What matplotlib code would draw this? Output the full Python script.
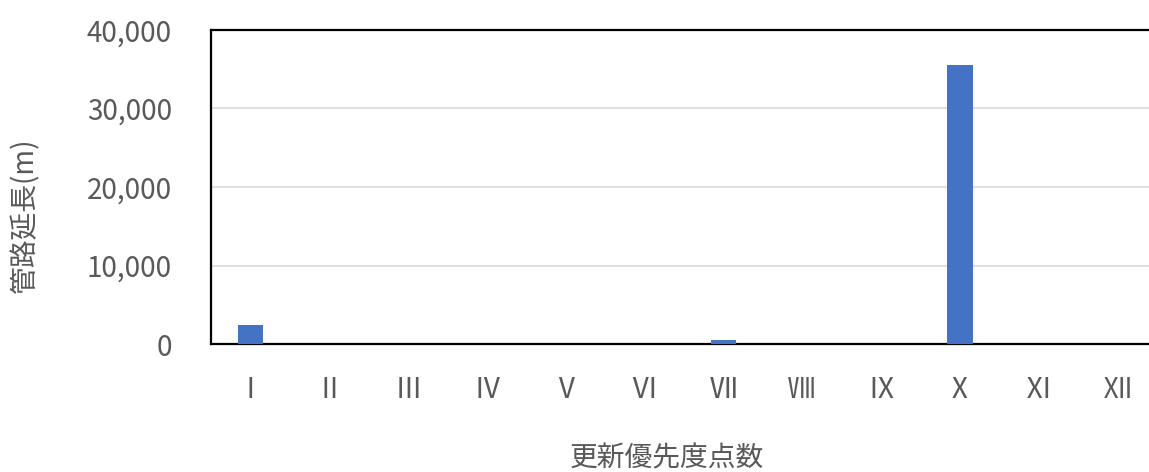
import matplotlib.pyplot as plt
from matplotlib.ticker import FuncFormatter

plt.rcParams['font.family'] = ['Noto Sans CJK JP', 'DejaVu Sans']

# 更新優先度点数ごとの管路延長 (m)
scores = ['Ⅰ', 'Ⅱ', 'Ⅲ', 'Ⅳ', 'Ⅴ', 'Ⅵ', 'Ⅶ', 'Ⅷ', 'Ⅸ', 'Ⅹ', 'Ⅺ', 'Ⅻ']
lengths = [2400, 0, 0, 0, 0, 0, 500, 0, 0, 35500, 0, 0]
yticks = [0, 10000, 20000, 30000, 40000]

W, H = 1149, 472
fig = plt.figure(figsize=(W / 100, H / 100), dpi=100)
ax = fig.add_axes([211 / W, 128 / H, 946 / W, 314 / H])

x = range(len(scores))
ax.bar(x, lengths, width=0.32, color='#4472c4', zorder=3)

ax.set_xlim(-0.5, len(scores) - 0.5)
ax.set_ylim(0, 40000)
ax.set_yticks(yticks)
ax.yaxis.set_major_formatter(FuncFormatter(lambda v, p: f'{int(v):,}'))
ax.set_xticks(list(x))
ax.set_xticklabels(scores)

ax.grid(axis='y', color='#d9d9d9', linewidth=1.2, zorder=0)
for s in ax.spines.values():
    s.set_color('black')
    s.set_linewidth(1.6)

ax.tick_params(axis='both', length=0, labelsize=20, labelcolor='#595959')
ax.tick_params(axis='x', pad=22)
ax.tick_params(axis='y', pad=28)

fig.text(667 / W, 1 - 458 / H, '更新優先度点数', fontsize=20, color='#595959',
         ha='center', va='center')
fig.text(25 / W, 1 - 215 / H, '管路延長(m)', fontsize=20, color='#595959',
         ha='center', va='center', rotation=90)

fig.savefig('out.png', dpi=100)
